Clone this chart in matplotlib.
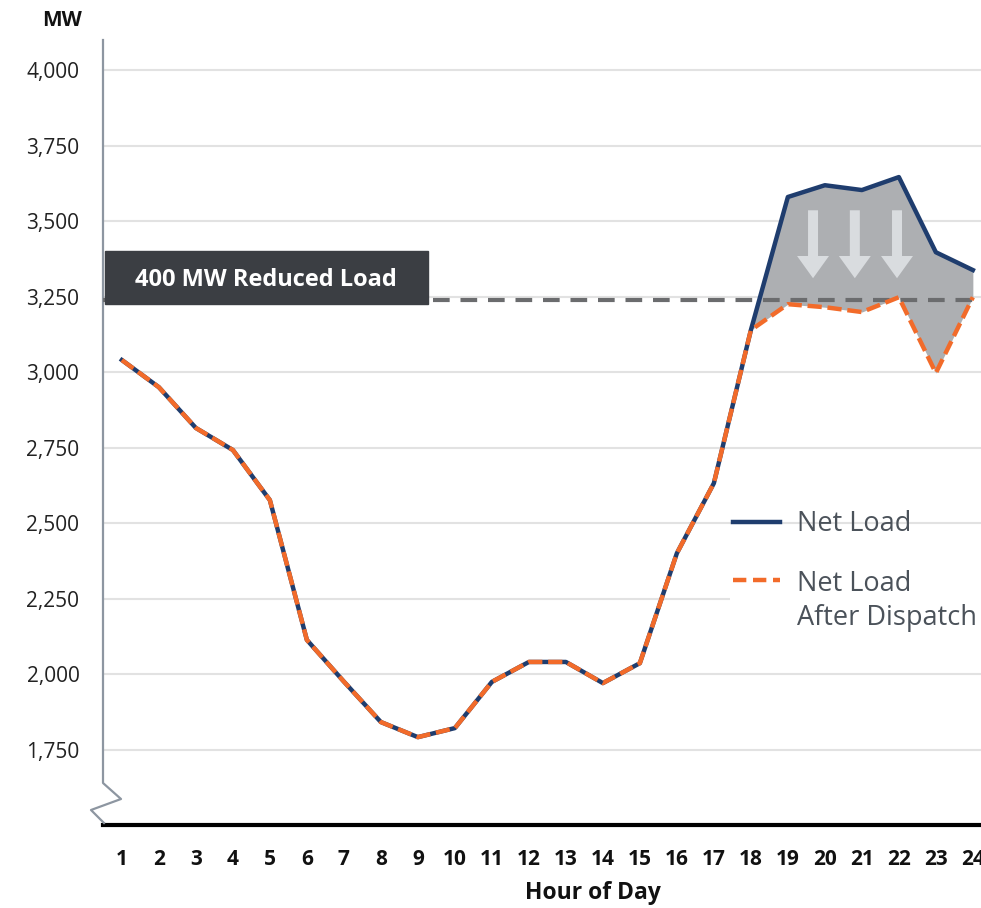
import matplotlib
matplotlib.use('Agg')
import matplotlib.pyplot as plt
from matplotlib.patches import Rectangle

plt.rcParams['font.family'] = ['Open Sans', 'DejaVu Sans']

# data
hours = list(range(1, 25))
net_load = [3040, 2950, 2815, 2742, 2576, 2113, 1975, 1841, 1791, 1821, 1974, 2040,
            2040, 1970, 2036, 2400, 2632, 3139, 3580, 3619, 3603, 3646, 3397, 3338]
after_dispatch = net_load[:18] + [3225, 3215, 3199, 3248, 2997, 3248]
reduced_level = 3238
y_ticks = [1750, 2000, 2250, 2500, 2750, 3000, 3250, 3500, 3750, 4000]
arrow_hours = [19.68, 20.81, 21.95]
arrow_top, arrow_tip = 3536, 3311

navy = '#1f3d6e'
orange = '#f26b2a'

W, H = 981, 908
fig = plt.figure(figsize=(W / 100, H / 100), dpi=100)
ax_l, ax_b, ax_w, ax_h = 103, 825, 878, 785   # pixel frame of the plot area
ax = fig.add_axes([ax_l / W, 1 - ax_b / H, ax_w / W, ax_h / H])
ax.set_xlim(0.49, 24.22)
ax.set_ylim(1500, 4100)


def axfrac(px, py):
    # pixel position (from top-left of image) -> axes fraction
    return (px - ax_l) / ax_w, (ax_b - py) / ax_h


# grid and axes
ax.set_yticks(y_ticks)
ax.set_yticklabels(['{:,}'.format(v) for v in y_ticks], fontsize=15, color='#222222')
ax.set_xticks(hours)
ax.set_xticklabels([str(h) for h in hours], fontsize=15, fontweight='bold', color='#111111')
ax.tick_params(axis='y', length=0, pad=17)
ax.tick_params(axis='x', length=0, pad=17)
ax.grid(axis='y', color='#e2e2e2', lw=1.5)
ax.set_axisbelow(True)
for s in ['top', 'right', 'left']:
    ax.spines[s].set_visible(False)
ax.spines['bottom'].set_color('black')
ax.spines['bottom'].set_linewidth(3)

# left axis with break mark
pts = [(103, 40), (103, 783), (121, 799), (91, 810), (104, 823)]
xs, ys = zip(*[axfrac(px, py) for px, py in pts])
ax.plot(xs, ys, color='#8d96a1', lw=1.6, transform=ax.transAxes, clip_on=False, zorder=3)

ax.set_xlabel('Hour of Day', fontsize=16.5, fontweight='bold', color='#111111')
lx, ly = axfrac(593, 893)
ax.xaxis.set_label_coords(lx, ly)
ax.xaxis.label.set_va('center')
fig.text(62 / W, 1 - 20 / H, 'MW', fontsize=15, fontweight='bold', color='#111111',
         ha='center', va='center')

# shaded reduction
ax.fill_between(hours[17:], net_load[17:], after_dispatch[17:], color='#adafb2', lw=0, zorder=2)

for h in arrow_hours:
    ax.annotate('', xy=(h, arrow_tip), xytext=(h, arrow_top),
                arrowprops=dict(arrowstyle='simple,head_length=0.8,head_width=1.15,tail_width=0.36',
                                color='#d9dcdf', lw=0, shrinkA=0, shrinkB=0, mutation_scale=20),
                zorder=3)

ax.axhline(reduced_level, color='#6b6c6e', lw=3, dashes=(4, 2.6), zorder=3.5)

ax.plot(hours, net_load, color=navy, lw=3.2, solid_joinstyle='round', zorder=4)
ax.plot(hours, after_dispatch, color=orange, lw=3.2, dashes=(3.2, 1.3),
        dash_capstyle='butt', zorder=5)

# label box
ax.add_patch(Rectangle((0.54, 3225), 9.27 - 0.54, 3401 - 3225, color='#3b3e43', zorder=6))
ax.text((0.54 + 9.27) / 2, 3306, '400 MW Reduced Load', color='white', fontsize=17,
        fontweight='bold', ha='center', va='center', zorder=7)

# legend
bx0, by0 = axfrac(730, 640)
bx1, by1 = axfrac(981, 560)
ax.add_patch(Rectangle((bx0, by0), bx1 - bx0, by1 - by0, transform=ax.transAxes,
                       color='white', lw=0, zorder=1.5))
hx0, hy1 = axfrac(733, 522)
hx1, hy2 = axfrac(780, 580)
ax.plot([hx0, hx1], [hy1, hy1], color=navy, lw=3.2, transform=ax.transAxes, zorder=6)
ax.plot([hx0, hx1], [hy2, hy2], color=orange, lw=3.2, dashes=(3.0, 1.5),
        dash_capstyle='butt', transform=ax.transAxes, zorder=6)
tx, ty1 = axfrac(797, 524)
_, ty2 = axfrac(0, 601)
ax.text(tx, ty1, 'Net Load', fontsize=19.5, color='#4b525a', ha='left', va='center',
        transform=ax.transAxes, zorder=7)
ax.text(tx, ty2, 'Net Load\nAfter Dispatch', fontsize=19.5, color='#4b525a', ha='left',
        va='center', linespacing=1.3, transform=ax.transAxes, zorder=7, clip_on=False)

fig.savefig('out.png', dpi=100)
